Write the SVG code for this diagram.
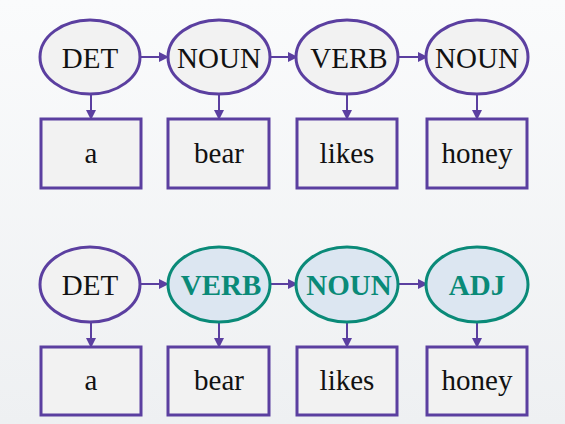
<svg xmlns="http://www.w3.org/2000/svg" width="565" height="424" viewBox="0 0 565 424">
<defs>
<marker id="ah" viewBox="0 0 10 10" refX="9" refY="5" markerWidth="5" markerHeight="5" orient="auto" markerUnits="strokeWidth">
<path d="M0,0 L10,5 L0,10 z" fill="#5b3fa0"/>
</marker>
<linearGradient id="bg" x1="0" y1="0" x2="0" y2="1">
<stop offset="0" stop-color="#fafbfc"/>
<stop offset="1" stop-color="#eef0f2"/>
</linearGradient>
</defs>
<style>
.el{fill:#f2f2f2;stroke:#5b3fa0;stroke-width:3}
.hl{fill:#dce6f1;stroke:#0a8a78;stroke-width:3}
.bx{fill:#f2f2f2;stroke:#5b3fa0;stroke-width:3}
.t{font-family:'Liberation Serif','Times New Roman',Tinos,'DejaVu Serif',serif;font-size:29px;fill:#111;text-anchor:middle}
.g{font-family:'Liberation Serif','Times New Roman',Tinos,'DejaVu Serif',serif;font-size:29px;font-weight:bold;fill:#0a8a78;text-anchor:middle}
.c{stroke:#5b3fa0;stroke-width:2;fill:none;marker-end:url(#ah)}
</style>
<rect width="565" height="424" fill="url(#bg)"/>
<g id="connectors">
<line class="c" x1="141" y1="57" x2="168" y2="57"/>
<line class="c" x1="271" y1="57" x2="297" y2="57"/>
<line class="c" x1="399" y1="57" x2="427" y2="57"/>
<line class="c" x1="91" y1="94" x2="91" y2="119"/>
<line class="c" x1="219" y1="94" x2="219" y2="119"/>
<line class="c" x1="347" y1="94" x2="347" y2="119"/>
<line class="c" x1="477" y1="94" x2="477" y2="119"/>
<line class="c" x1="141" y1="284" x2="168" y2="284"/>
<line class="c" x1="271" y1="284" x2="297" y2="284"/>
<line class="c" x1="399" y1="284" x2="427" y2="284"/>
<line class="c" x1="91" y1="322" x2="91" y2="347"/>
<line class="c" x1="219" y1="322" x2="219" y2="347"/>
<line class="c" x1="347" y1="322" x2="347" y2="347"/>
<line class="c" x1="477" y1="322" x2="477" y2="347"/>
</g>
<g id="t1"><ellipse class="el" cx="90" cy="57" rx="50" ry="37"/><text class="t" x="90" y="68">DET</text></g>
<g id="t2"><ellipse class="el" cx="219" cy="57" rx="51" ry="37"/><text class="t" x="219" y="68">NOUN</text></g>
<g id="t3"><ellipse class="el" cx="347" cy="57" rx="51" ry="37"/><text class="t" x="349" y="68">VERB</text></g>
<g id="t4"><ellipse class="el" cx="477" cy="57" rx="51" ry="37"/><text class="t" x="477" y="68">NOUN</text></g>
<g id="w1"><rect class="bx" x="41" y="119" width="100" height="69"/><text class="t" x="91" y="163">a</text></g>
<g id="w2"><rect class="bx" x="168" y="119" width="101" height="69"/><text class="t" x="219" y="163">bear</text></g>
<g id="w3"><rect class="bx" x="297" y="119" width="100" height="69"/><text class="t" x="347" y="163">likes</text></g>
<g id="w4"><rect class="bx" x="427" y="119" width="100" height="69"/><text class="t" x="477" y="163">honey</text></g>
<g id="b1"><ellipse class="el" cx="90" cy="284.5" rx="50" ry="37.5"/><text class="t" x="90" y="295">DET</text></g>
<g id="b2"><ellipse class="hl" cx="219" cy="284.5" rx="51" ry="37.5"/><text class="g" x="221" y="295">VERB</text></g>
<g id="b3"><ellipse class="hl" cx="347" cy="284.5" rx="51" ry="37.5"/><text class="g" x="349" y="295">NOUN</text></g>
<g id="b4"><ellipse class="hl" cx="477" cy="284.5" rx="51" ry="37.5"/><text class="g" x="477" y="295">ADJ</text></g>
<g id="v1"><rect class="bx" x="41" y="347" width="100" height="68"/><text class="t" x="91" y="390">a</text></g>
<g id="v2"><rect class="bx" x="168" y="347" width="101" height="68"/><text class="t" x="219" y="390">bear</text></g>
<g id="v3"><rect class="bx" x="297" y="347" width="100" height="68"/><text class="t" x="347" y="390">likes</text></g>
<g id="v4"><rect class="bx" x="427" y="347" width="100" height="68"/><text class="t" x="477" y="390">honey</text></g>
</svg>
